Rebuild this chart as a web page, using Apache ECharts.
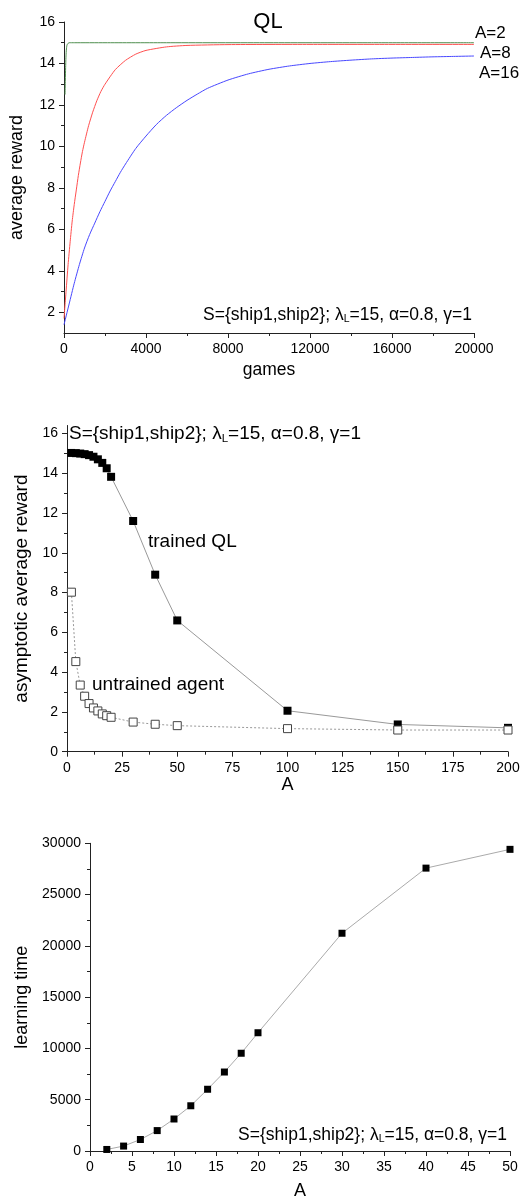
<!DOCTYPE html>
<html>
<head>
<meta charset="utf-8">
<script src="https://cdn.jsdelivr.net/npm/echarts@6/dist/echarts.min.js"></script>
<style>
html,body{margin:0;padding:0;background:#fff;}
#chart{width:530px;height:1201px;}
</style>
</head>
<body>
<div id="chart"></div>
<script>
// ---------- Panel 1: QL learning curves ----------
const gamesA2   = [50, 65, 80, 95, 110, 130, 150, 200, 250, 500, 2000, 5000, 10000, 15000, 20000];
const rewardA2  = [12.5, 13.2, 13.8, 14.3, 14.6, 14.8, 14.9, 14.97, 15.0, 15.0, 15.0, 15.0, 15.0, 15.0, 15.0];

const gamesA8   = [0, 100, 200, 300, 400, 500, 600, 700, 800, 900, 1000, 1200, 1400, 1600, 1800, 2000, 2500, 3000, 3500, 4000, 5000, 6000, 8000, 12000, 16000, 20000];
const rewardA8  = [1.7, 3.0, 4.3, 5.4, 6.4, 7.2, 7.9, 8.6, 9.2, 9.75, 10.2, 11.0, 11.65, 12.2, 12.65, 13.0, 13.7, 14.15, 14.45, 14.63, 14.8, 14.87, 14.91, 14.92, 14.92, 14.92];

const gamesA16  = [0, 250, 500, 750, 1000, 1250, 1500, 1750, 2000, 2250, 2500, 2750, 3000, 3500, 4000, 4500, 5000, 5500, 6000, 6500, 7000, 8000, 9000, 10000, 11000, 12000, 13000, 14000, 15000, 16000, 17000, 18000, 19000, 20000];
const rewardA16 = [1.4, 2.4, 3.4, 4.3, 5.1, 5.75, 6.3, 6.85, 7.35, 7.85, 8.3, 8.75, 9.15, 9.9, 10.5, 11.05, 11.5, 11.88, 12.22, 12.52, 12.8, 13.2, 13.5, 13.72, 13.88, 14.0, 14.09, 14.16, 14.22, 14.26, 14.29, 14.32, 14.34, 14.36];

const curveLabels = ['A=2', 'A=8', 'A=16'];
const topYMajorTicks = [2, 4, 6, 8, 10, 12, 14, 16];
const topYMinorTicks = [3, 5, 7, 9, 11, 13, 15];

// ---------- Panel 2: asymptotic average reward vs A ----------
const aValues      = [2, 4, 6, 8, 10, 12, 14, 16, 18, 20, 30, 40, 50, 100, 150, 200];
const trainedQL    = [15.02, 15.01, 14.99, 14.96, 14.91, 14.83, 14.7, 14.52, 14.25, 13.82, 11.6, 8.9, 6.6, 2.06, 1.37, 1.2];
const untrained    = [8.02, 4.53, 3.35, 2.79, 2.42, 2.2, 2.05, 1.9, 1.81, 1.73, 1.49, 1.38, 1.31, 1.16, 1.09, 1.09];
const midYMajorTicks = [0, 2, 4, 6, 8, 10, 12, 14, 16];
const midYMinorTicks = [1, 3, 5, 7, 9, 11, 13, 15];

// ---------- Panel 3: learning time vs A ----------
const aLearn       = [2, 4, 6, 8, 10, 12, 14, 16, 18, 20, 30, 40, 50];
const learningTime = [150, 480, 1120, 1990, 3120, 4410, 6020, 7700, 9530, 11530, 21230, 27580, 29410];

const annotation = 'S={ship1,ship2}; λ{sub|L}=15, α=0.8, γ=1';

const FONT = '"Liberation Sans", Arial, sans-serif';
const pairs = (xs, ys) => xs.map((x, i) => [x, ys[i]]);
const plain = v => String(v);

function valueAxis(extra) {
  return Object.assign({
    type: 'value',
    axisLine: { show: true, lineStyle: { color: '#222', width: 1 } },
    axisTick: { show: true, inside: false, length: 5, lineStyle: { color: '#222' } },
    minorTick: { show: true, splitNumber: 2, length: 3, lineStyle: { color: '#222' } },
    splitLine: { show: false },
    minorSplitLine: { show: false },
    axisLabel: { color: '#000', fontSize: 14, fontFamily: FONT, margin: 9, formatter: plain },
    nameLocation: 'middle',
    nameTextStyle: { color: '#000', fontSize: 18, fontFamily: FONT }
  }, extra);
}

// main axis with custom major ticks + labels
function customMajorAxis(grid, min, max, ticks, extra) {
  return valueAxis(Object.assign({
    gridIndex: grid, min: min, max: max,
    axisTick: { show: true, inside: false, length: 5, lineStyle: { color: '#222' }, customValues: ticks },
    minorTick: { show: false },
    axisLabel: { color: '#000', fontSize: 14, fontFamily: FONT, margin: 9, formatter: plain, customValues: ticks }
  }, extra));
}
// overlay axis carrying only the short minor ticks
function minorOverlayAxis(grid, min, max, ticks) {
  return {
    type: 'value', gridIndex: grid, min: min, max: max, position: 'left', offset: 0,
    axisLine: { show: false },
    axisTick: { show: true, inside: false, length: 3, lineStyle: { color: '#222' }, customValues: ticks },
    axisLabel: { show: false },
    splitLine: { show: false },
    minorTick: { show: false }
  };
}

const chart = echarts.init(document.getElementById('chart'), null, { renderer: 'canvas' });

const richSmall = { sub: { fontSize: 10.5, fontFamily: FONT, fill: '#000', padding: [9, 0, 0, 0] } };
const richLarge = { sub: { fontSize: 11.5, fontFamily: FONT, fill: '#000', padding: [10, 0, 0, 0] } };

const option = {
  animation: false,
  backgroundColor: '#fff',
  grid: [
    { left: 61, top: 22, width: 413, height: 311 },
    { left: 67, top: 425.5, width: 441, height: 326.2 },
    { left: 90, top: 843.3, width: 420, height: 311 }
  ],
  xAxis: [
    valueAxis({ gridIndex: 0, min: 0, max: 20000, interval: 4000, name: 'games', nameGap: 28,
      nameTextStyle: { color: '#000', fontSize: 17.5, fontFamily: FONT } }),
    valueAxis({ gridIndex: 1, min: 0, max: 200, interval: 25, name: 'A', nameGap: 24 }),
    valueAxis({ gridIndex: 2, min: 0, max: 50, interval: 5, name: 'A', nameGap: 31 })
  ],
  yAxis: [
    customMajorAxis(0, 1, 16, topYMajorTicks, { name: 'average reward', nameGap: 38 }),
    customMajorAxis(1, 0, 16.4, midYMajorTicks, { name: 'asymptotic average reward', nameGap: 33,
      nameTextStyle: { color: '#000', fontSize: 19, fontFamily: FONT } }),
    valueAxis({ gridIndex: 2, min: 0, max: 30000, interval: 5000, name: 'learning time', nameGap: 58 }),
    minorOverlayAxis(0, 1, 16, topYMinorTicks),
    minorOverlayAxis(1, 0, 16.4, midYMinorTicks)
  ],
  series: [
    { type: 'line', xAxisIndex: 0, yAxisIndex: 0, data: pairs(gamesA2, rewardA2), showSymbol: false, symbol: 'none',
      smooth: 0.2, lineStyle: { color: '#4f8f4f', width: 1 } },
    { type: 'line', xAxisIndex: 0, yAxisIndex: 0, data: pairs(gamesA8, rewardA8), showSymbol: false, symbol: 'none',
      smooth: 0.2, lineStyle: { color: '#ff5050', width: 1 } },
    { type: 'line', xAxisIndex: 0, yAxisIndex: 0, data: pairs(gamesA16, rewardA16), showSymbol: false, symbol: 'none',
      smooth: 0.2, lineStyle: { color: '#4848ff', width: 1 } },
    { type: 'line', xAxisIndex: 1, yAxisIndex: 1, data: pairs(aValues, trainedQL), symbol: 'rect', symbolSize: 8,
      itemStyle: { color: '#000' }, lineStyle: { color: '#999', width: 1 } },
    { type: 'line', xAxisIndex: 1, yAxisIndex: 1, data: pairs(aValues, untrained), symbol: 'rect', symbolSize: 8,
      itemStyle: { color: '#fff', borderColor: '#444', borderWidth: 1 }, lineStyle: { color: '#999', width: 1, type: [2, 2] } },
    { type: 'line', xAxisIndex: 2, yAxisIndex: 2, data: pairs(aLearn, learningTime), symbol: 'rect', symbolSize: 7,
      itemStyle: { color: '#000' }, lineStyle: { color: '#aaa', width: 1 } }
  ],
  graphic: [
    { type: 'text', x: 268, y: 22, style: { text: 'QL', fill: '#000', font: '22px ' + FONT, align: 'center', verticalAlign: 'middle' } },
    { type: 'text', x: 475, y: 33, style: { text: curveLabels[0], fill: '#000', font: '17px ' + FONT, align: 'left', verticalAlign: 'middle' } },
    { type: 'text', x: 480, y: 53, style: { text: curveLabels[1], fill: '#000', font: '17px ' + FONT, align: 'left', verticalAlign: 'middle' } },
    { type: 'text', x: 479, y: 73.5, style: { text: curveLabels[2], fill: '#000', font: '17px ' + FONT, align: 'left', verticalAlign: 'middle' } },
    { type: 'text', x: 472, y: 315, style: { text: annotation, fill: '#000', font: '17.5px ' + FONT, align: 'right', verticalAlign: 'middle', rich: richSmall } },
    { type: 'text', x: 69, y: 434, style: { text: annotation, fill: '#000', font: '19px ' + FONT, align: 'left', verticalAlign: 'middle', rich: richLarge } },
    { type: 'text', x: 148, y: 541.7, style: { text: 'trained QL', fill: '#000', font: '19px ' + FONT, align: 'left', verticalAlign: 'middle' } },
    { type: 'text', x: 92, y: 685, style: { text: 'untrained agent', fill: '#000', font: '19px ' + FONT, align: 'left', verticalAlign: 'middle' } },
    { type: 'text', x: 507, y: 1135, style: { text: annotation, fill: '#000', font: '17.5px ' + FONT, align: 'right', verticalAlign: 'middle', rich: richSmall } }
  ]
};
chart.setOption(option);
</script>
</body>
</html>
